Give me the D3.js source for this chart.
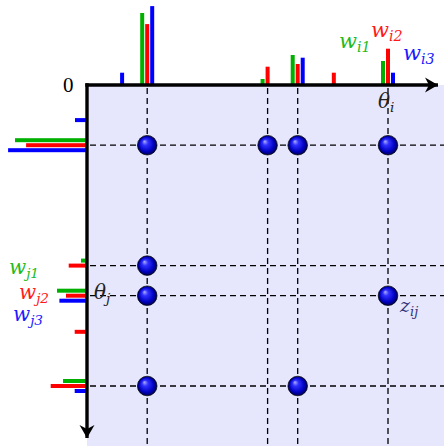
<!DOCTYPE html>
<html>
<head>
<meta charset="utf-8">
<script src="https://cdn.jsdelivr.net/npm/d3@7"></script>
<style>
  html, body { margin: 0; padding: 0; background: #fff; }
  svg { display: block; }
</style>
</head>
<body>
<div id="chart"></div>
<script>
// bin positions (theta) shared by both axes
const theta_bins = [0.1, 0.2, 0.6, 0.7, 0.82, 1.0];

// weights along theta_i (top axis)
const wi_green = [0, 0.24, 0.02, 0.1, 0, 0.08];
const wi_red = [0, 0.203, 0.061, 0.07, 0.041, 0.121];
const wi_blue = [0.041, 0.263, 0.003, 0.091, 0, 0.041];

// weights along theta_j (left axis)
const wj_green = [0, 0.24, 0.02, 0.1, 0, 0.08];
const wj_red = [0, 0.203, 0.061, 0.07, 0.041, 0.121];
const wj_blue = [0.04, 0.263, 0, 0.092, 0, 0.041];

// grid of atoms and the non-zero cells z_ij
const grid_theta = [0.2, 0.6, 0.7, 1.0];
const atoms_i = [0.2, 0.6, 0.7, 1.0, 0.2, 0.2, 1.0, 0.2, 0.7];
const atoms_j = [0.2, 0.2, 0.2, 0.2, 0.6, 0.7, 0.7, 1.0, 1.0];

const width = 444;
const height = 446;
const origin = [87, 85];

const series_colors = ["#00b000", "#ff0000", "#0000ff"];
const label_colors = ["#22bb22", "#ff1a1a", "#1a1aff"];

const x = d3.scaleLinear().domain([0, 1]).range([origin[0], 388]);
const y = d3.scaleLinear().domain([0, 1]).range([origin[1], 386]);
const w = d3.scaleLinear().domain([0, 1]).range([0, 300]);

const svg = d3
  .select("#chart")
  .append("svg")
  .attr("width", width)
  .attr("height", height);

const defs = svg.append("defs");

function initDefs() {
  const grad = defs
    .append("radialGradient")
    .attr("id", "ball")
    .attr("cx", "50%")
    .attr("cy", "50%")
    .attr("r", "50%")
    .attr("fx", "35%")
    .attr("fy", "30%");
  grad.append("stop").attr("offset", "0%").attr("stop-color", "#b0b0ff");
  grad.append("stop").attr("offset", "30%").attr("stop-color", "#3030ff");
  grad.append("stop").attr("offset", "75%").attr("stop-color", "#0000c0");
  grad.append("stop").attr("offset", "100%").attr("stop-color", "#000050");

  defs
    .append("marker")
    .attr("id", "arrow")
    .attr("viewBox", "-14 -8 16 16")
    .attr("refX", 0)
    .attr("refY", 0)
    .attr("markerUnits", "userSpaceOnUse")
    .attr("markerWidth", 16)
    .attr("markerHeight", 16)
    .attr("orient", "auto")
    .append("path")
    .attr("d", "M0,0 L-13,-7.5 L-9,0 L-13,7.5 Z")
    .attr("fill", "#000");
}

function drawBackground() {
  svg
    .append("rect")
    .attr("x", origin[0])
    .attr("y", origin[1])
    .attr("width", width - origin[0])
    .attr("height", height - origin[1])
    .attr("fill", "#e6e6fc");
}

function drawGrid() {
  const g = svg
    .append("g")
    .attr("stroke", "#000")
    .attr("stroke-width", 1.3)
    .attr("stroke-dasharray", "6,4");

  g.selectAll(".vline")
    .data(grid_theta)
    .join("line")
    .attr("x1", (d) => x(d))
    .attr("x2", (d) => x(d))
    .attr("y1", origin[1] + 3)
    .attr("y2", height);

  g.selectAll(".hline")
    .data(grid_theta)
    .join("line")
    .attr("class", "hline")
    .attr("y1", (d) => y(d))
    .attr("y2", (d) => y(d))
    .attr("x1", origin[0] + 3)
    .attr("x2", width);
}

function drawTopBars() {
  const all = [wi_green, wi_red, wi_blue];
  all.forEach((vals, k) => {
    const data = theta_bins
      .map((t, idx) => ({ t: t, v: vals[idx] }))
      .filter((d) => d.v > 0);
    svg
      .append("g")
      .selectAll("rect")
      .data(data)
      .join("rect")
      .attr("x", (d) => x(d.t) + (k - 1) * 5 - 2)
      .attr("y", (d) => origin[1] - w(d.v))
      .attr("width", 4)
      .attr("height", (d) => w(d.v))
      .attr("fill", series_colors[k]);
  });
}

function drawLeftBars() {
  const all = [wj_green, wj_red, wj_blue];
  all.forEach((vals, k) => {
    const data = theta_bins
      .map((t, idx) => ({ t: t, v: vals[idx] }))
      .filter((d) => d.v > 0);
    svg
      .append("g")
      .selectAll("rect")
      .data(data)
      .join("rect")
      .attr("y", (d) => y(d.t) + (k - 1) * 5 - 2)
      .attr("x", (d) => origin[0] - w(d.v))
      .attr("height", 4)
      .attr("width", (d) => w(d.v))
      .attr("fill", series_colors[k]);
  });
}

function drawAxes() {
  svg
    .append("line")
    .attr("x1", origin[0] - 1.7)
    .attr("x2", width - 6)
    .attr("y1", origin[1])
    .attr("y2", origin[1])
    .attr("stroke", "#000")
    .attr("stroke-width", 3.4)
    .attr("marker-end", "url(#arrow)");

  svg
    .append("line")
    .attr("x1", origin[0])
    .attr("x2", origin[0])
    .attr("y1", origin[1] - 1.7)
    .attr("y2", height - 8)
    .attr("stroke", "#000")
    .attr("stroke-width", 3.4)
    .attr("marker-end", "url(#arrow)");
}

function drawBalls() {
  const pts = atoms_i.map((a, idx) => [a, atoms_j[idx]]);
  svg
    .append("g")
    .selectAll("circle")
    .data(pts)
    .join("circle")
    .attr("cx", (d) => x(d[0]))
    .attr("cy", (d) => y(d[1]))
    .attr("r", 9.8)
    .attr("fill", "url(#ball)")
    .attr("stroke", "#000")
    .attr("stroke-width", 0.7);
}

function mathLabel(px, py, main, sub, color, size) {
  const t = svg
    .append("text")
    .attr("x", px)
    .attr("y", py)
    .attr("fill", color)
    .style("font-family", "'DejaVu Serif', serif")
    .style("font-style", "italic")
    .style("font-size", size + "px");
  t.append("tspan").text(main);
  if (sub) {
    t.append("tspan")
      .attr("dy", size * 0.2)
      .style("font-size", size * 0.68 + "px")
      .text(sub);
  }
  return t;
}

function drawLabels() {
  svg
    .append("text")
    .attr("x", 63)
    .attr("y", 92)
    .attr("fill", "#000")
    .style("font-family", "'Liberation Serif', serif")
    .style("font-size", "21px")
    .text("0");

  mathLabel(339, 48, "w", "i1", label_colors[0], 21);
  mathLabel(371, 37, "w", "i2", label_colors[1], 21);
  mathLabel(403, 60, "w", "i3", label_colors[2], 21);

  mathLabel(9, 274, "w", "j1", label_colors[0], 20);
  mathLabel(19, 299, "w", "j2", label_colors[1], 20);
  mathLabel(13, 321, "w", "j3", label_colors[2], 20);

  mathLabel(378, 108, "θ", "i", "#222", 20);
  mathLabel(94, 299, "θ", "j", "#222", 20);
  mathLabel(400, 312, "z", "ij", "#33337a", 19);
}

initDefs();
drawBackground();
drawGrid();
drawTopBars();
drawLeftBars();
drawAxes();
drawBalls();
drawLabels();
</script>
</body>
</html>
